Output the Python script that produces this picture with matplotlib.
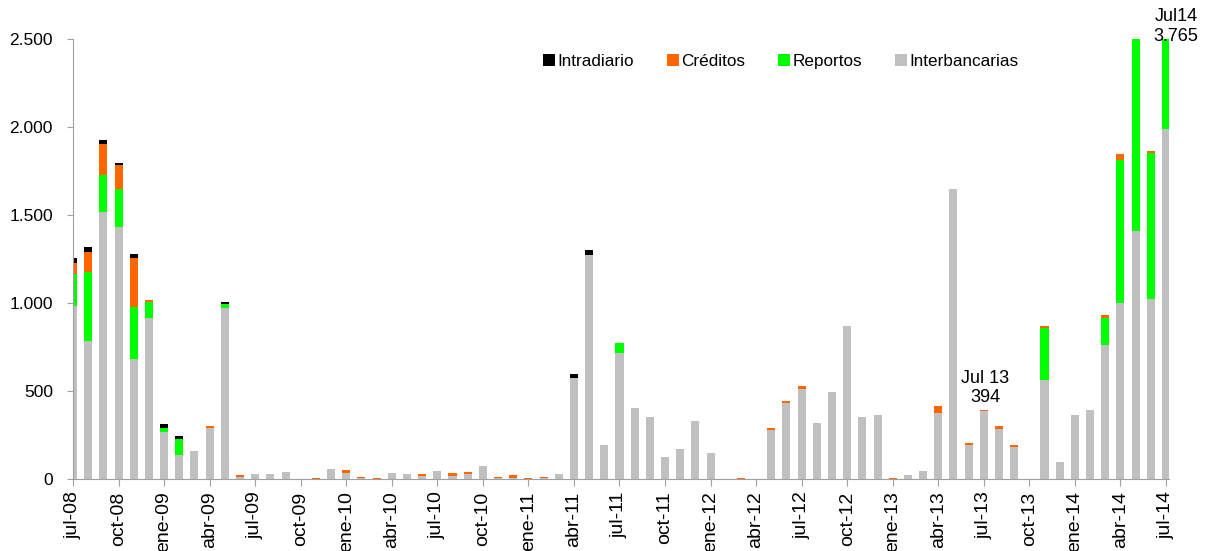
import matplotlib
matplotlib.use('Agg')
import matplotlib.pyplot as plt
from matplotlib.ticker import FuncFormatter

plt.rcParams['font.family'] = ['Liberation Sans', 'DejaVu Sans']

# months jul-08 .. jul-14
mes = ['ene', 'feb', 'mar', 'abr', 'may', 'jun', 'jul', 'ago', 'sep', 'oct', 'nov', 'dic']
meses = []
for k in range(73):
    m = (6 + k) % 12
    a = 8 + (6 + k) // 12
    meses.append('%s-%02d' % (mes[m], a))

interbancarias = [983, 786, 1516, 1431, 679, 915,            # jul-08 .. dic-08
                  266, 139, 157, 288, 970, 9, 30, 30, 41, 0, 2, 57,   # 2009
                  36, 5, 2, 36, 29, 17, 44, 19, 27, 72, 3, 5,         # 2010
                  2, 3, 26, 575, 1275, 194, 716, 403, 350, 124, 171, 327,  # 2011
                  150, 0, 0, 0, 280, 432, 512, 316, 493, 870, 351, 365,    # 2012
                  0, 21, 44, 375, 1648, 194, 385, 285, 181, 0, 565, 95,    # 2013
                  361, 394, 763, 1001, 1408, 1020, 1987]                   # 2014
reportos = [180, 389, 209, 216, 300, 89,
            24, 91, 0, 0, 24, 0, 0, 0, 0, 0, 0, 0,
            0, 0, 0, 0, 0, 0, 0, 0, 0, 0, 0, 0,
            0, 0, 0, 0, 0, 0, 59, 0, 0, 0, 0, 0,
            0, 0, 0, 0, 0, 0, 0, 0, 0, 0, 0, 0,
            0, 0, 0, 0, 0, 0, 0, 0, 0, 0, 291, 0,
            0, 0, 154, 814, 1300, 830, 1770]
creditos = [65, 115, 178, 137, 279, 11,
            0, 0, 0, 14, 0, 16, 0, 0, 0, 0, 6, 0,
            13, 8, 5, 0, 0, 12, 0, 13, 11, 0, 7, 18,
            6, 7, 0, 0, 0, 0, 0, 0, 0, 0, 0, 0,
            0, 0, 6, 0, 11, 9, 15, 0, 0, 0, 0, 0,
            7, 0, 0, 42, 0, 13, 9, 14, 12, 0, 15, 0,
            0, 0, 12, 31, 0, 11, 8]
intradiario = [26, 29, 23, 11, 23, 0,
               25, 17, 0, 0, 14, 0, 0, 0, 0, 0, 0, 0,
               0, 0, 0, 0, 0, 0, 0, 0, 0, 0, 0, 0,
               0, 0, 0, 21, 27, 0, 0, 0, 0, 0, 0, 0,
               0, 0, 0, 0, 0, 0, 0, 0, 0, 0, 0, 0,
               0, 0, 0, 0, 0, 0, 0, 0, 0, 0, 0, 0,
               0, 0, 0, 0, 0, 0, 0]

x = list(range(len(meses)))
b1 = interbancarias
b2 = [a + b for a, b in zip(b1, reportos)]
b3 = [a + b for a, b in zip(b2, creditos)]

fig = plt.figure(figsize=(12.07, 5.51), dpi=100)
ax = fig.add_axes([0.0605, 0.1307, 0.908, 0.7985])

w = 0.53
ax.bar(x, interbancarias, w, color='#c0c0c0', label='Interbancarias')
ax.bar(x, reportos, w, bottom=b1, color='#00ff00', label='Reportos')
ax.bar(x, creditos, w, bottom=b2, color='#ff6600', label='Créditos')
ax.bar(x, intradiario, w, bottom=b3, color='black', label='Intradiario')

ax.set_xlim(0, 72.2)
ax.set_ylim(0, 2500)
ax.set_yticks([0, 500, 1000, 1500, 2000, 2500])
ax.yaxis.set_major_formatter(FuncFormatter(lambda v, p: '{:,.0f}'.format(v).replace(',', '.')))
ax.set_xticks(x[::3])
ax.set_xticklabels(meses[::3], rotation=90, fontsize=14)
ax.tick_params(axis='y', labelsize=12.5, length=4.5, color='#a0a0a0', pad=10)
ax.tick_params(axis='x', length=5, color='#a0a0a0', pad=4)

for s in ['top', 'right']:
    ax.spines[s].set_visible(False)
for s in ['left', 'bottom']:
    ax.spines[s].set_color('#a0a0a0')

h, l = ax.get_legend_handles_labels()
ax.legend(h[::-1], l[::-1], ncol=4, frameon=False, fontsize=12.3,
          loc='center', bbox_to_anchor=(0.646, 0.948),
          handlelength=0.7, handleheight=0.7, handletextpad=0.15,
          columnspacing=1.92)

ax.text(60.1, 518, 'Jul 13\n394', ha='center', va='center', fontsize=13)
ax.text(72.65, 2572, 'Jul14\n3.765', ha='center', va='center', fontsize=13,
        clip_on=False)

fig.savefig('out.png', dpi=100)
